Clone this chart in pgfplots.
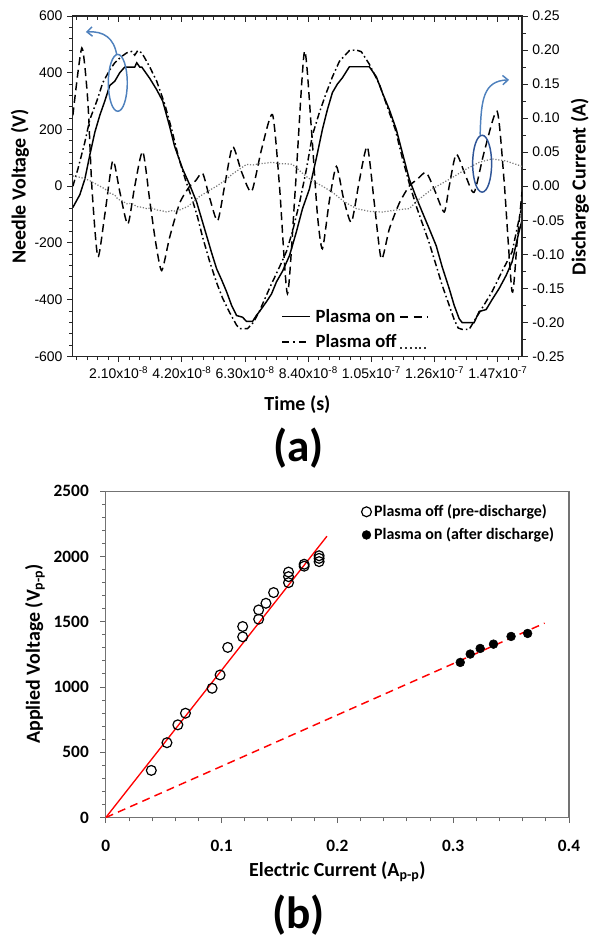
\documentclass[border=0pt]{standalone}
\usepackage{fontspec}
\setmainfont{Carlito}
\newfontfamily\arialf{Liberation Sans}
\usepackage{pgfplots}
\usepackage{pgfplotstable}
\pgfplotsset{compat=1.18}
\usetikzlibrary{arrows.meta}
\definecolor{annot}{RGB}{79,129,189}
\definecolor{annotdk}{RGB}{47,85,151}
\definecolor{dotgray}{RGB}{120,120,120}

% time in units of 1e-8 s
\pgfplotstableread{
t v
0.574 -75
0.806 -30
0.972 25
1.138 110
1.304 190
1.470 250
1.635 300
1.801 355
1.967 370
2.133 400
2.299 420
2.631 420
2.697 435
2.797 420
2.863 420
3.129 380
3.361 340
3.560 300
3.792 210
3.958 140
4.224 60
4.456 5
4.688 -56
5.020 -175
5.186 -235
5.351 -291
5.517 -330
5.683 -372
5.849 -420
6.015 -456
6.214 -462
6.347 -477
6.546 -477
6.679 -455
6.778 -442
7.011 -407
7.177 -380
7.343 -337
7.542 -300
7.774 -245
8.006 -160
8.205 -80
8.437 -10
8.670 100
8.869 200
9.035 270
9.201 330
9.367 360
9.533 382
9.765 421
10.428 421
10.660 386
10.859 330
11.092 270
11.324 200
11.523 119
11.755 25
11.987 -40
12.186 -91
12.419 -150
12.651 -210
12.851 -285
13.083 -361
13.248 -420
13.414 -467
13.514 -481
13.912 -481
14.078 -442
14.310 -435
14.509 -400
14.742 -361
14.974 -315
15.173 -267
15.405 -160
15.505 -120
}\voltOn

\pgfplotstableread{
t v
0.574 0
0.740 60
0.972 155
1.138 235
1.370 300
1.569 365
1.801 410
1.967 435
2.166 455
2.365 470
2.531 475
2.631 462
2.730 478
2.863 470
2.963 452
3.129 420
3.361 370
3.626 290
3.859 200
4.091 100
4.323 20
4.522 -40
4.721 -110
4.887 -180
5.119 -265
5.351 -340
5.551 -395
5.783 -445
6.015 -490
6.115 -502
6.380 -502
6.579 -480
6.778 -440
7.110 -360
7.442 -285
7.674 -230
7.873 -160
8.106 -60
8.338 60
8.537 180
8.769 260
9.001 330
9.200 385
9.433 440
9.765 478
9.997 480
10.163 474
10.428 430
10.760 360
11.025 280
11.291 200
11.523 100
11.755 10
11.987 -70
12.186 -130
12.419 -200
12.651 -280
12.851 -350
13.083 -420
13.248 -470
13.381 -500
13.514 -505
13.746 -505
13.945 -470
14.177 -430
14.509 -372
14.841 -300
15.173 -232
15.405 -116
15.505 -70
}\voltOff

\pgfplotstableread{
t i
0.574 0.104
0.872 0.203
1.071 0.125
1.204 0.000
1.403 -0.104
1.635 -0.042
1.901 0.0375
2.133 -0.008
2.399 -0.056
2.631 0.000
2.896 0.051
3.129 -0.021
3.328 -0.083
3.527 -0.124
3.792 -0.075
4.124 -0.025
4.456 0.000
4.655 0.008
4.887 0.019
5.119 -0.017
5.385 -0.051
5.617 0.000
5.883 0.058
6.181 0.021
6.513 -0.008
6.845 0.054
7.210 0.105
7.442 0.000
7.707 -0.158
7.973 0.000
8.271 0.198
8.504 0.083
8.703 -0.042
8.869 -0.092
9.101 -0.021
9.333 0.029
9.566 -0.017
9.831 -0.053
10.096 0.008
10.362 0.058
10.594 -0.025
10.826 -0.107
11.092 -0.063
11.424 -0.025
11.755 0.000
12.020 0.010
12.319 0.020
12.618 -0.008
12.917 -0.038
13.083 0.000
13.315 0.047
13.614 0.017
13.912 -0.009
14.244 0.050
14.675 0.110
14.907 0.008
15.173 -0.155
15.339 -0.083
15.505 -0.008
}\currOn

\pgfplotstableread{
t i
0.574 0.015
0.806 0.013
0.972 0.011
1.138 0.008
1.304 0.004
1.470 0.000
1.635 -0.004
1.801 -0.010
1.967 -0.013
2.067 -0.019
2.233 -0.022
2.365 -0.026
2.531 -0.025
2.697 -0.030
2.863 -0.031
3.029 -0.033
3.195 -0.032
3.361 -0.035
3.527 -0.036
3.693 -0.038
3.859 -0.036
4.024 -0.037
4.224 -0.033
4.389 -0.030
4.555 -0.024
4.788 -0.015
5.119 -0.006
5.351 0.000
5.617 0.008
5.883 0.018
6.115 0.025
6.347 0.032
6.546 0.031
6.778 0.033
7.011 0.034
7.210 0.035
7.409 0.033
7.608 0.033
7.873 0.032
8.106 0.023
8.338 0.014
8.537 0.008
8.869 0.000
9.201 -0.009
9.599 -0.023
9.997 -0.033
10.428 -0.037
10.859 -0.038
11.324 -0.035
11.755 -0.033
12.087 -0.019
12.519 -0.004
13.083 0.010
13.646 0.025
14.078 0.035
14.509 0.040
14.974 0.037
15.505 0.029
}\currOff

\pgfplotstableread{
I V
0.0393 361
0.0528 573
0.0622 710
0.0688 799
0.0918 990
0.0987 1092
0.1053 1303
0.1182 1384
0.1182 1463
0.1320 1519
0.1320 1590
0.1383 1641
0.1449 1723
0.1578 1799
0.1578 1845
0.1578 1880
0.1713 1925
0.1713 1940
0.1842 1960
0.1842 1985
0.1842 2005
}\preDis

\pgfplotstableread{
I V
0.3061 1188
0.3147 1252
0.3233 1295
0.3348 1328
0.3500 1387
0.3643 1410
}\afterDis

\pgfplotsset{
  topax/.style={at={(54.75pt,-267.75pt)}, anchor=south west, scale only axis,
    width=337.5pt, height=255.75pt, xmin=0.574, xmax=15.505,
    /pgf/number format/assume math mode=true,
    ticklabel style={font=\arialf\fontsize{10.5}{12}\selectfont},
    axis line style={black!85, line width=0.9pt},
    tick style={black!85, line width=0.7pt}},
  minorx/.style={minor xtick={0.70,1.05,1.40,1.75,2.45,2.80,3.15,3.50,3.85,4.55,4.90,5.25,5.60,5.95,6.65,7.00,7.35,7.70,8.05,8.75,9.10,9.45,9.80,10.15,10.85,11.20,11.55,11.90,12.25,12.95,13.30,13.65,14.00,14.35,15.05,15.40}},
}

\begin{document}
\begin{tikzpicture}
\begin{scope}[x=0.75pt,y=-0.75pt]
\path (0,0) rectangle (596,940);
\end{scope}

% (a) left axis: needle voltage
\begin{axis}[topax, minorx,
  ymin=-600, ymax=600, ytick={-600,-400,-200,0,200,400,600}, minor y tick num=4,
  xtick={2.1,4.2,6.3,8.4,10.5,12.6,14.7},
  xticklabels={2.10x10\textsuperscript{-8},4.20x10\textsuperscript{-8},6.30x10\textsuperscript{-8},8.40x10\textsuperscript{-8},1.05x10\textsuperscript{-7},1.26x10\textsuperscript{-7},1.47x10\textsuperscript{-7}},
  xtick pos=left, ytick pos=left, tick align=outside,
  legend columns=2,
  legend style={at={(0.455,0.155)}, anchor=north west, draw=none, fill=none,
    font=\bfseries\fontsize{14}{16}\selectfont, row sep=3.5pt,
    /tikz/every odd column/.append style={column sep=2pt}},
  legend image code/.code={\draw[#1] (0cm,0cm) -- (0.72cm,0cm);},
  legend cell align=left]
\addplot[black, line width=1.1pt, forget plot] table[x=t,y=v] {\voltOn};
\addplot[black, line width=1.1pt, dash pattern=on 5pt off 2.2pt on 1.2pt off 2.2pt, forget plot] table[x=t,y=v] {\voltOff};
\addlegendimage{black, line width=1.1pt}
\addlegendentry{Plasma on}
\addlegendimage{black, line width=1.2pt, dash pattern=on 6pt off 4pt}
\addlegendentry{\mbox{}}
\addlegendimage{black, line width=1.2pt, dash pattern=on 5pt off 3pt on 1.5pt off 3pt}
\addlegendentry{Plasma off}
\addlegendimage{black!80, line width=1.6pt, dash pattern=on 1.4pt off 2.2pt, yshift=-4.5pt}
\addlegendentry{\mbox{}}
\end{axis}

% (a) right axis: discharge current
\begin{axis}[topax,
  ymin=-0.25, ymax=0.25, axis y line*=right, axis x line=none,
  ytick={-0.25,-0.2,-0.15,-0.1,-0.05,0,0.05,0.1,0.15,0.2,0.25}, minor y tick num=1,
  yticklabel style={/pgf/number format/.cd, fixed, fixed zerofill, precision=2},
  tick align=outside]
\addplot[black, line width=1.1pt, dash pattern=on 6pt off 3.5pt, smooth, tension=0.4] table[x=t,y=i] {\currOn};
\addplot[dotgray, line width=0.9pt, dash pattern=on 0.9pt off 1.3pt] table[x=t,y=i] {\currOff};
\end{axis}

% (a) inward ticks along the top edge
\begin{axis}[topax, minorx, ymin=-600, ymax=600, ytick=\empty,
  xtick={2.1,4.2,6.3,8.4,10.5,12.6,14.7}, xticklabels={},
  xtick pos=right, tick align=inside, axis line style={draw=none}]
\end{axis}

% (b)
\begin{axis}[at={(79.5pt,-614.25pt)}, anchor=south west, scale only axis,
  width=348pt, height=245.25pt,
  xmin=0, xmax=0.4, ymin=0, ymax=2500,
  xtick={0,0.1,0.2,0.3,0.4}, ytick={0,500,1000,1500,2000,2500},
  minor x tick num=4, minor y tick num=4,
  xtick pos=left, ytick pos=left, tick align=outside,
  axis line style={black!55, line width=0.8pt},
  tick style={black!60, line width=0.7pt},
  /pgf/number format/1000 sep={}, /pgf/number format/assume math mode=true,
  ticklabel style={font=\bfseries\fontsize{13}{15}\selectfont},
  xticklabel style={yshift=-9pt}, yticklabel style={xshift=-5pt},
  legend style={at={(0.543,0.975)}, anchor=north west, draw=none, fill=none,
    font=\bfseries\fontsize{12}{14}\selectfont, row sep=3pt},
  legend cell align=left,
  legend image code/.code={\draw[mark repeat=2,mark phase=2] plot coordinates {(0cm,0cm) (0.15cm,0cm) (0.3cm,0cm)};}]
\addplot[red, line width=1pt, forget plot] coordinates {(0,0) (0.191,2155)};
\addplot[red, line width=1.1pt, dash pattern=on 6pt off 4pt, forget plot] coordinates {(0,0) (0.379,1489)};
\addplot[only marks, mark=o, mark size=3.7pt, black, mark options={line width=0.9pt}] table[x=I,y=V] {\preDis};
\addlegendentry{Plasma off (pre-discharge)}
\addplot[only marks, mark=*, mark size=3.3pt, black] table[x=I,y=V] {\afterDis};
\addlegendentry{Plasma on (after discharge)}
\end{axis}

\begin{scope}[x=0.75pt,y=-0.75pt]
\node[font=\bfseries\fontsize{15}{18}\selectfont] at (298,405) {Time (s)};
\node[rotate=90, font=\bfseries\fontsize{15}{18}\selectfont] at (20,187) {Needle Voltage (V)};
\node[rotate=90, font=\bfseries\fontsize{15}{18}\selectfont] at (581,187) {Discharge Current (A)};
\node[font=\bfseries\fontsize{34}{40}\selectfont] at (299,449) {(a)};

% annotations
\draw[annot, line width=1.1pt] (118,83) ellipse [x radius=9.5, y radius=28.5];
\draw[annot, line width=1.1pt, -{Straight Barb[length=4pt,width=7pt]}] (117,55) .. controls (114,38) and (104,31) .. (86,32);
\draw[annotdk, line width=1.1pt] (483,164) ellipse [x radius=9.5, y radius=28.5];
\draw[annot, line width=1.1pt, -{Straight Barb[length=4pt,width=7pt]}] (481,135) .. controls (482,100) and (484,81) .. (510,80);

\node[font=\bfseries\fontsize{15}{18}\selectfont] at (338,873) {Electric Current (A\textsubscript{p-p})};
\node[rotate=90, font=\bfseries\fontsize{15}{18}\selectfont] at (35,655) {Applied Voltage (V\textsubscript{p-p})};
\node[font=\bfseries\fontsize{34}{40}\selectfont] at (299,917) {(b)};
\end{scope}
\end{tikzpicture}
\end{document}
